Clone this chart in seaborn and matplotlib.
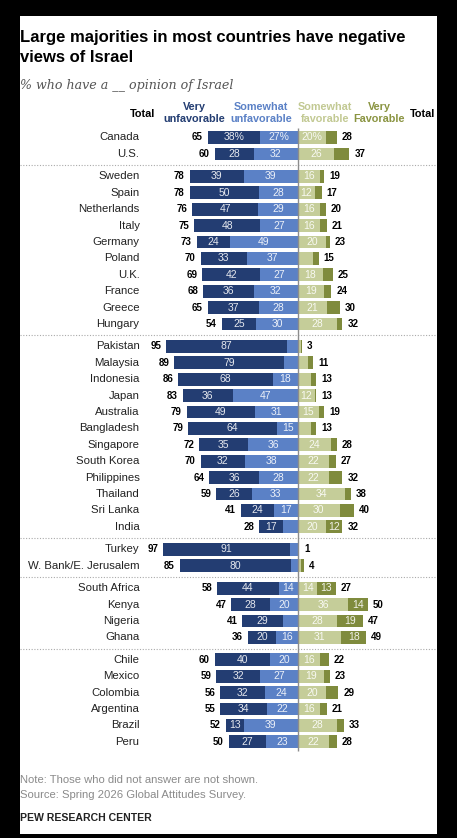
import matplotlib
matplotlib.use("Agg")
import matplotlib.pyplot as plt
from matplotlib.patches import Rectangle
import numpy as np
import pandas as pd
import seaborn as sns

countries = [
    "Canada", "U.S.",
    "Sweden", "Spain", "Netherlands", "Italy", "Germany", "Poland", "U.K.",
    "France", "Greece", "Hungary",
    "Pakistan", "Malaysia", "Indonesia", "Japan", "Australia", "Bangladesh",
    "Singapore", "South Korea", "Philippines", "Thailand", "Sri Lanka", "India",
    "Turkey", "W. Bank/E. Jerusalem",
    "South Africa", "Kenya", "Nigeria", "Ghana",
    "Chile", "Mexico", "Colombia", "Argentina", "Brazil", "Peru",
]
group_sizes = [2, 10, 12, 2, 4, 6]

very_unfav = [38, 28,
              39, 50, 47, 48, 24, 33, 42, 36, 37, 25,
              87, 79, 68, 36, 49, 64, 35, 32, 36, 26, 24, 17,
              91, 80,
              44, 28, 29, 20,
              40, 32, 32, 34, 13, 27]
some_unfav = [27, 32,
              39, 28, 29, 27, 49, 37, 27, 32, 28, 30,
              8, 10, 18, 47, 31, 15, 36, 38, 28, 33, 17, 11,
              6, 5,
              14, 20, 11, 16,
              20, 27, 24, 22, 39, 23]
some_fav = [20, 26,
            16, 12, 16, 16, 20, 11, 18, 19, 21, 28,
            2, 7, 9, 12, 15, 9, 24, 22, 22, 34, 30, 20,
            1, 2,
            14, 36, 28, 31,
            16, 19, 20, 16, 28, 22]
very_fav = [8, 11,
            3, 5, 4, 5, 3, 4, 7, 5, 9, 4,
            1, 4, 4, 1, 4, 4, 4, 5, 10, 4, 10, 12,
            0, 2,
            13, 14, 19, 18,
            6, 4, 9, 5, 5, 6]
total_unfav = [65, 60,
               78, 78, 76, 75, 73, 70, 69, 68, 65, 54,
               95, 89, 86, 83, 79, 79, 72, 70, 64, 59, 41, 28,
               97, 85,
               58, 47, 41, 36,
               60, 59, 56, 55, 52, 50]
total_fav = [28, 37,
             19, 17, 20, 21, 23, 15, 25, 24, 30, 32,
             3, 11, 13, 13, 19, 13, 28, 27, 32, 38, 40, 32,
             1, 4,
             27, 50, 47, 49,
             22, 23, 29, 21, 33, 28]

C_VU = "#233d72"
C_SU = "#5b81c6"
C_SF = "#c5cd99"
C_VF = "#7f8b3d"

W, H = 457, 838


def fx(px):
    return px / W


def fy(py):
    return 1 - py / H


sns.set_style("white")
plt.rcParams["font.family"] = ["Liberation Sans", "DejaVu Sans"]

# row positions with a small gap between country groups
group_idx = np.repeat(np.arange(len(group_sizes)), group_sizes)
ypos = np.arange(len(countries)) + 0.37 * group_idx

df = pd.DataFrame({
    "country": countries,
    "pos": ypos,
    "vu": very_unfav,
    "su": some_unfav,
    "sf": some_fav,
    "vf": very_fav,
})
df["unfav_all"] = -(df["vu"] + df["su"])
df["unfav_some"] = -df["su"]
df["fav_all"] = df["sf"] + df["vf"]
df["fav_some"] = df["sf"]

fig = plt.figure(figsize=(W / 100, H / 100), dpi=100)
fig.patch.set_facecolor("black")
fig.patches.append(Rectangle((fx(20), fy(834)), (437 - 20) / W, (834 - 16) / H,
                             transform=fig.transFigure, facecolor="white",
                             edgecolor="none", zorder=-5))

ax = fig.add_axes([fx(20), fy(834), (437 - 20) / W, (834 - 16) / H])
ax.patch.set_alpha(0)
ax.set_zorder(2)

for col, color in [("unfav_all", C_VU), ("unfav_some", C_SU),
                   ("fav_all", C_VF), ("fav_some", C_SF)]:
    sns.barplot(data=df, x=col, y="pos", orient="h", native_scale=True,
                color=color, saturation=1, width=0.78, linewidth=0,
                errorbar=None, ax=ax)

ax.set_xlim(-200, 100)
ax.set_ylim((834 - 137.5) / 16.4, (16 - 137.5) / 16.4)
ax.axis("off")

# center line and group separators
ax.vlines(0, ypos[0] - 0.6, ypos[-1] + 0.55, color="#8c8c8c", lw=1, zorder=5)
ends = np.cumsum(group_sizes)[:-1]
for e in ends:
    ax.axhline((ypos[e - 1] + ypos[e]) / 2, color="#aaaaaa", lw=0.8,
               ls=(0, (1, 1.5)))

lab_kw = dict(va="center", ha="center", fontsize=7.5, color="white", alpha=0.88)
for i, r in df.iterrows():
    y = r["pos"]
    pct = "%" if i == 0 else ""
    ax.text(-114, y, r["country"], ha="right", va="center", fontsize=8.2,
            color="#222222")
    if r["vu"] >= 12:
        ax.text(-(r["su"] + r["vu"] / 2), y, f"{r['vu']}{pct}", **lab_kw)
    if r["su"] >= 12:
        ax.text(-r["su"] / 2, y, f"{r['su']}{pct}", **lab_kw)
    if r["sf"] >= 12:
        ax.text(r["sf"] / 2, y, f"{r['sf']}{pct}", **lab_kw)
    if r["vf"] >= 12:
        ax.text(r["sf"] + r["vf"] / 2, y, f"{r['vf']}{pct}", **lab_kw)
    ax.text(r["unfav_all"] - 3.5, y, str(total_unfav[i]), ha="right",
            va="center", fontsize=7, fontweight="bold", color="black")
    ax.text(r["fav_all"] + 3.5, y, str(total_fav[i]), ha="left",
            va="center", fontsize=7, fontweight="bold", color="black")

# title and subtitle
fig.text(fx(20), fy(42), "Large majorities in most countries have negative",
         fontsize=12, fontweight="bold", color="black", va="baseline")
fig.text(fx(20), fy(61.5), "views of Israel",
         fontsize=12, fontweight="bold", color="black", va="baseline")
fig.text(fx(20), fy(88.5), "% who have a __ opinion of Israel",
         fontsize=9.1, fontstyle="italic", family="DejaVu Serif",
         color="#555555", va="baseline")

# column headers
hdr = dict(fontsize=7.8, fontweight="bold", ha="center", va="center",
           linespacing=1.18)
fig.text(fx(143), fy(114), "Total", color="black", **hdr)
fig.text(fx(194), fy(113), "Very\nunfavorable", color=C_VU, **hdr)
fig.text(fx(261), fy(113), "Somewhat\nunfavorable", color=C_SU, **hdr)
fig.text(fx(325), fy(113), "Somewhat\nfavorable", color="#c2c993", **hdr)
fig.text(fx(379), fy(113), "Very\nFavorable", color="#8a9441", **hdr)
fig.text(fx(423), fy(114), "Total", color="black", **hdr)

# notes
fig.text(fx(20), fy(779.5), "Note: Those who did not answer are not shown.",
         fontsize=8.1, color="#8a8a8a", va="center")
fig.text(fx(20), fy(794.5), "Source: Spring 2026 Global Attitudes Survey.",
         fontsize=8.1, color="#8a8a8a", va="center")
fig.text(fx(20), fy(818), "PEW RESEARCH CENTER", fontsize=7.6,
         fontweight="bold", color="#222222", va="center")

fig.savefig("out.png", dpi=100, facecolor=fig.get_facecolor())
